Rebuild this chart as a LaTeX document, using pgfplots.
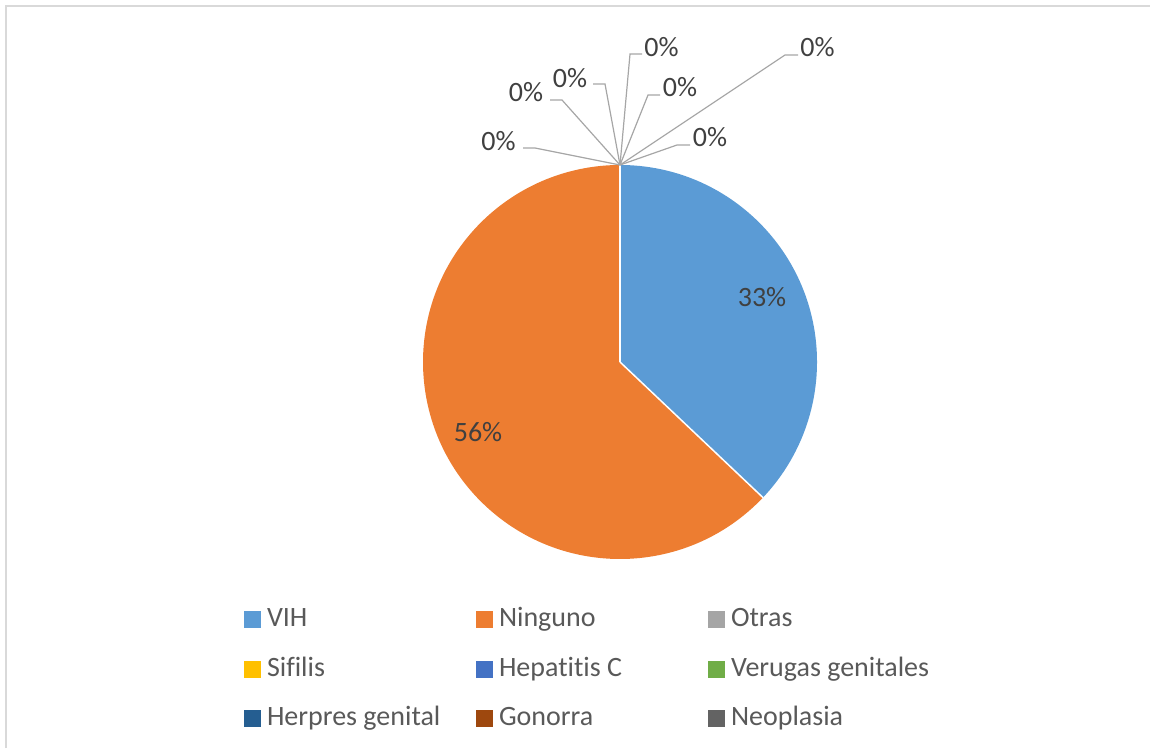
\documentclass[border=0pt]{standalone}
\usepackage{pgfplots}
\pgfplotsset{compat=1.18}
\usepackage{pgfplotstable}
\usepackage{fontspec}
\setmainfont[Ligatures={NoCommon}]{Carlito}
\definecolor{cVIH}{HTML}{5B9BD5}
\definecolor{cNin}{HTML}{ED7D31}
\definecolor{cOtr}{HTML}{A5A5A5}
\definecolor{cSif}{HTML}{FFC000}
\definecolor{cHep}{HTML}{4472C4}
\definecolor{cVer}{HTML}{70AD47}
\definecolor{cHer}{HTML}{255E91}
\definecolor{cGon}{HTML}{9E480E}
\definecolor{cNeo}{HTML}{636363}
\definecolor{lbl}{HTML}{404040}
\definecolor{leg}{HTML}{595959}
\definecolor{lead}{HTML}{A6A6A6}
\definecolor{frm}{HTML}{D9D9D9}

\pgfplotstableread{
cat value
VIH 33
Ninguno 56
Otras 0
Sifilis 0
HepatitisC 0
Verugas 0
Herpres 0
Gonorra 0
Neoplasia 0
}\piedata

\begin{document}
\begin{tikzpicture}[font=\fontsize{14bp}{16bp}\selectfont]
\pgfplotstablegetelem{0}{value}\of\piedata \let\vA\pgfplotsretval
\pgfplotstablegetelem{1}{value}\of\piedata \let\vB\pgfplotsretval
\pgfmathsetmacro\aA{90-360*\vA/(\vA+\vB)}
\begin{axis}[x=0.5bp,y=0.5bp,xmin=0,xmax=1150,ymin=0,ymax=748,
  hide axis, clip=false, scale only axis,
  legend columns=3,
  legend style={draw=none, fill=none, inner sep=0pt, outer sep=0pt,
    at={(axis cs:244,79)}, anchor=west, column sep=0pt, row sep=11.75bp,
    nodes={inner sep=0pt, text=leg, text height=10bp, text depth=3bp},
    font=\fontsize{14bp}{16bp}\selectfont},
  legend image code/.code={\fill[#1,draw=none] (0bp,-4.25bp) rectangle (8.5bp,4.25bp);},
]
\coordinate (BL) at (axis cs:0,0);
\coordinate (TR) at (axis cs:1150,748);
% frame
\draw[frm, line width=1bp] (axis cs:6,0) -- (axis cs:6,742) -- (axis cs:1150,742);
% pie sectors
\fill[cVIH] (axis cs:620,386) -- (axis cs:620,583) arc[start angle=90, end angle=\aA, radius=98.5bp] -- cycle;
\fill[cNin] (axis cs:620,386) -- ++(\aA:98.5bp) arc[start angle=\aA, end angle=-270, radius=98.5bp] -- cycle;
\draw[white, line width=0.75bp] (axis cs:620,386) -- ++(\aA:98.5bp);
\draw[white, line width=0.75bp] (axis cs:620,386) -- (axis cs:620,583);
% labels
\node[text=lbl] at (axis cs:762,451) {\vA\%};
\node[text=lbl] at (axis cs:478,316) {\vB\%};
% leader lines for zero slices
\draw[lead, line width=0.6bp] (axis cs:523,600) -- (axis cs:535,600) -- (axis cs:620,583);
\draw[lead, line width=0.6bp] (axis cs:550,648) -- (axis cs:562,648) -- (axis cs:620,583);
\draw[lead, line width=0.6bp] (axis cs:593,664) -- (axis cs:605,664) -- (axis cs:620,583);
\draw[lead, line width=0.6bp] (axis cs:642,694) -- (axis cs:630,694) -- (axis cs:620,583);
\draw[lead, line width=0.6bp] (axis cs:660,653) -- (axis cs:648,653) -- (axis cs:620,583);
\draw[lead, line width=0.6bp] (axis cs:798,693) -- (axis cs:785,693) -- (axis cs:620,583);
\draw[lead, line width=0.6bp] (axis cs:690,603) -- (axis cs:677,603) -- (axis cs:620,583);
\node[text=lbl] at (axis cs:498.5,606.5) {0\%};
\node[text=lbl] at (axis cs:526,656) {0\%};
\node[text=lbl] at (axis cs:570,670) {0\%};
\node[text=lbl] at (axis cs:661.5,700.5) {0\%};
\node[text=lbl] at (axis cs:680,661) {0\%};
\node[text=lbl] at (axis cs:817.5,700.5) {0\%};
\node[text=lbl] at (axis cs:710,610.5) {0\%};
% legend
\addlegendimage{fill=cVIH}\addlegendentry{\makebox[107.5bp][l]{\hspace{3bp}VIH}}
\addlegendimage{fill=cNin}\addlegendentry{\makebox[107.5bp][l]{\hspace{3bp}Ninguno}}
\addlegendimage{fill=cOtr}\addlegendentry{\makebox[107.5bp][l]{\hspace{3bp}Otras}}
\addlegendimage{fill=cSif}\addlegendentry{\makebox[107.5bp][l]{\hspace{3bp}Sifilis}}
\addlegendimage{fill=cHep}\addlegendentry{\makebox[107.5bp][l]{\hspace{3bp}Hepatitis C}}
\addlegendimage{fill=cVer}\addlegendentry{\makebox[107.5bp][l]{\hspace{3bp}Verugas genitales}}
\addlegendimage{fill=cHer}\addlegendentry{\makebox[107.5bp][l]{\hspace{3bp}Herpres genital}}
\addlegendimage{fill=cGon}\addlegendentry{\makebox[107.5bp][l]{\hspace{3bp}Gonorra}}
\addlegendimage{fill=cNeo}\addlegendentry{\makebox[107.5bp][l]{\hspace{3bp}Neoplasia}}
\end{axis}
\pgfresetboundingbox
\path[use as bounding box] (BL) rectangle (TR);
\end{tikzpicture}
\end{document}
